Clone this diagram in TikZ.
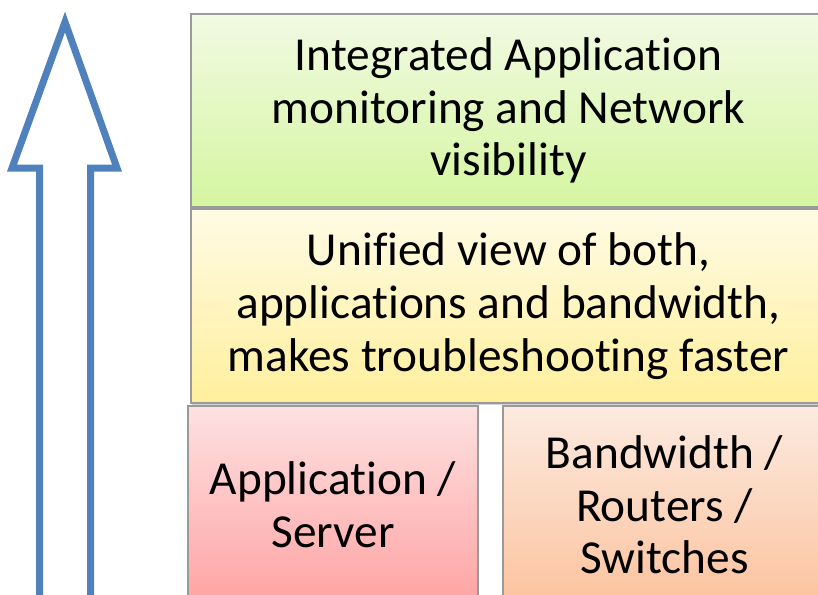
\documentclass[tikz,border=0pt]{standalone}
\usepackage{fontspec}
\setmainfont{Carlito}[RawFeature={-liga;-clig;-dlig;-calt}]
\usetikzlibrary{positioning,shadows}
\definecolor{arrowblue}{HTML}{4F81BD}
\definecolor{boxline}{HTML}{9A9A9A}
\definecolor{greentop}{HTML}{F1FAE3}
\definecolor{greenbot}{HTML}{D5F5A0}
\definecolor{yellowtop}{HTML}{FFFBE5}
\definecolor{yellowbot}{HTML}{FFEF9C}
\definecolor{redtop}{HTML}{FDE1E1}
\definecolor{redbot}{HTML}{FFA3A3}
\definecolor{orangetop}{HTML}{FCEAE0}
\definecolor{orangebot}{HTML}{FCC39E}
\tikzset{
    %Define style for the layer boxes
    layerbox/.style={
             rectangle,
             draw=boxline, line width=1pt,
             outer sep=0pt, inner sep=0pt,
             align=center,
             drop shadow={shadow xshift=1pt, shadow yshift=-1.5pt, opacity=0.35},
             font=\fontsize{35.5}{39.5}\selectfont},
    % Define the colours of each layer
    greenlayer/.style={top color=greentop, bottom color=greenbot},
    yellowlayer/.style={top color=yellowtop, bottom color=yellowbot},
    redlayer/.style={top color=redtop, bottom color=redbot},
    orangelayer/.style={top color=orangetop, bottom color=orangebot},
    % Define the big hollow arrow
    bigarrow/.style={
            draw=arrowblue,
            line width=5.25pt,
            line join=miter}
}
\begin{document}
\begin{tikzpicture}[x=0.75pt, y=-0.75pt]
 \useasboundingbox (0,0) rectangle (818,594);
 \clip (0,0) rectangle (818,594);
 \draw[bigarrow] (39.5,620) -- (39.5,168) -- (12,168) -- (65,22) -- (117,168) -- (90.5,168) -- (90.5,620);
 \node[layerbox, greenlayer, minimum width=476.25pt, minimum height=144.75pt] (integrated) at (508.5,110.5)
   {Integrated Application\\ monitoring and Network\\ visibility};
 \node[layerbox, yellowlayer, minimum width=476.25pt, minimum height=145.5pt, below=1.5pt of integrated] (unified)
   {Unified view of both,\\ applications and bandwidth,\\ makes troubleshooting faster};
 \node[layerbox, redlayer, minimum width=217.5pt, minimum height=148.5pt,
       below=2.25pt of unified.south west, anchor=north west, xshift=-2.25pt] (server)
   {Application /\\ Server};
 \node[layerbox, orangelayer, minimum width=242.25pt, minimum height=148.5pt,
       below=2.25pt of unified.south east, anchor=north east] (bandwidth)
   {Bandwidth /\\ Routers /\\ Switches};
\end{tikzpicture}
\end{document}
